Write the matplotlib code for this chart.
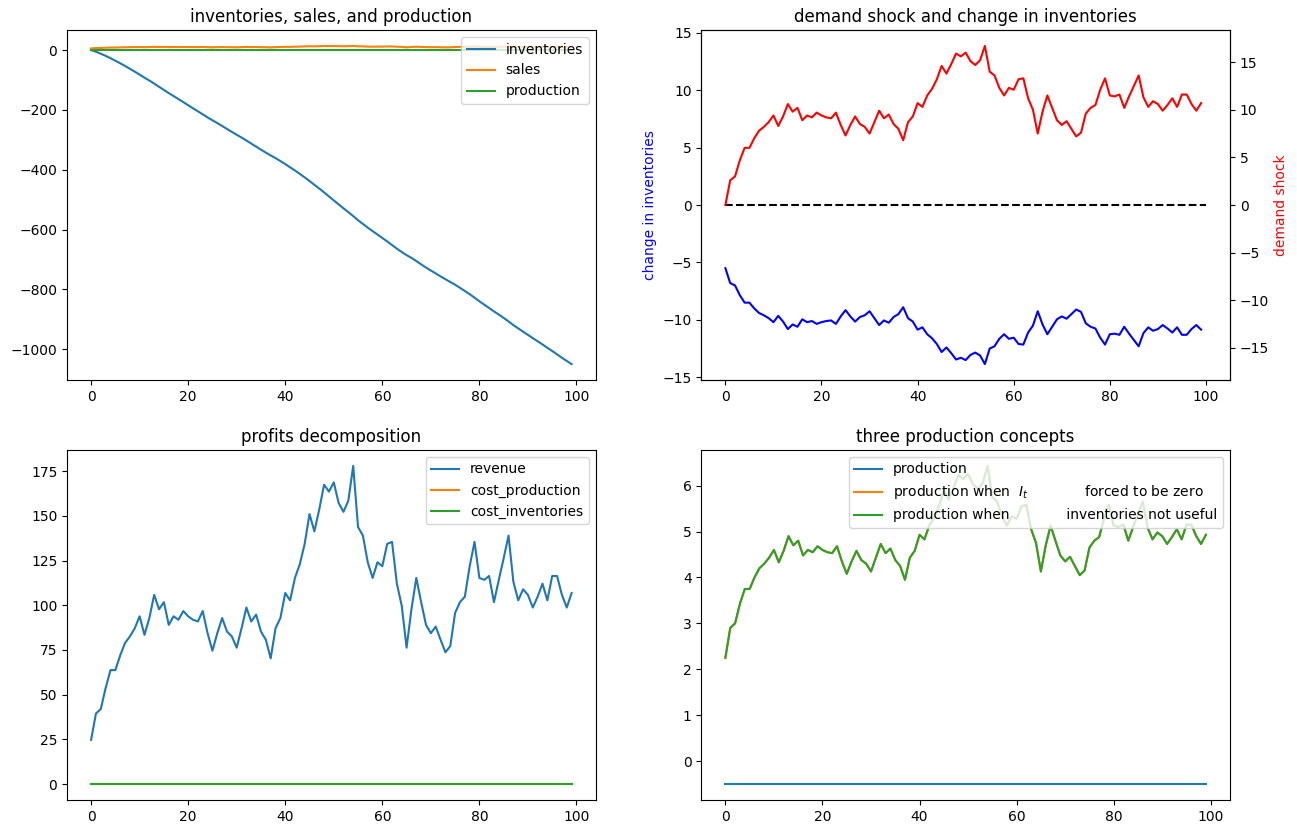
import matplotlib
matplotlib.use('Agg')
import matplotlib.pyplot as plt
import numpy as np

# data (100 periods)
demand_shock = [
    0.0, 2.6, 3.0, 4.7, 6.0, 6.0, 7.0, 7.8, 8.2, 8.7,
    9.4, 8.3, 9.3, 10.6, 9.8, 10.2, 8.9, 9.4, 9.2, 9.7,
    9.4, 9.2, 9.1, 9.7, 8.4, 7.3, 8.4, 9.3, 8.5, 8.2,
    7.5, 8.7, 9.9, 9.1, 9.5, 8.5, 8.0, 6.8, 8.7, 9.3,
    10.7, 10.3, 11.5, 12.2, 13.2, 14.6, 13.8, 14.8, 15.9, 15.6,
    16.0, 15.1, 14.7, 15.2, 16.7, 14.0, 13.6, 12.3, 11.5, 12.3,
    12.1, 13.2, 13.3, 11.2, 10.0, 7.5, 9.8, 11.5, 10.2, 8.9,
    8.4, 8.8, 8.0, 7.2, 7.6, 9.6, 10.2, 10.5, 12.1, 13.3,
    11.5, 11.4, 11.6, 10.2, 11.4, 12.5, 13.6, 11.3, 10.3, 10.9,
    10.6, 9.9, 10.5, 11.2, 10.3, 11.6, 11.6, 10.6, 9.9, 10.7]

sales = [
    5.50, 6.80, 7.00, 7.85, 8.50, 8.50, 9.00, 9.40, 9.60, 9.85,
    10.20, 9.65, 10.15, 10.80, 10.40, 10.60, 9.95, 10.20, 10.10, 10.35,
    10.20, 10.10, 10.05, 10.35, 9.70, 9.15, 9.70, 10.15, 9.75, 9.60,
    9.25, 9.85, 10.45, 10.05, 10.25, 9.75, 9.50, 8.90, 9.85, 10.15,
    10.85, 10.65, 11.25, 11.60, 12.10, 12.80, 12.40, 12.90, 13.45, 13.30,
    13.50, 13.05, 12.85, 13.10, 13.85, 12.50, 12.30, 11.65, 11.25, 11.65,
    11.55, 12.10, 12.15, 11.10, 10.50, 9.25, 10.40, 11.25, 10.60, 9.95,
    9.70, 9.90, 9.50, 9.10, 9.30, 10.30, 10.60, 10.75, 11.55, 12.15,
    11.25, 11.20, 11.30, 10.60, 11.20, 11.75, 12.30, 11.15, 10.65, 10.95,
    10.80, 10.45, 10.75, 11.10, 10.65, 11.30, 11.30, 10.80, 10.45, 10.85]

change_inventories = [
    -5.50, -6.80, -7.00, -7.85, -8.50, -8.50, -9.00, -9.40, -9.60, -9.85,
    -10.20, -9.65, -10.15, -10.80, -10.40, -10.60, -9.95, -10.20, -10.10, -10.35,
    -10.20, -10.10, -10.05, -10.35, -9.70, -9.15, -9.70, -10.15, -9.75, -9.60,
    -9.25, -9.85, -10.45, -10.05, -10.25, -9.75, -9.50, -8.90, -9.85, -10.15,
    -10.85, -10.65, -11.25, -11.60, -12.10, -12.80, -12.40, -12.90, -13.45, -13.30,
    -13.50, -13.05, -12.85, -13.10, -13.85, -12.50, -12.30, -11.65, -11.25, -11.65,
    -11.55, -12.10, -12.15, -11.10, -10.50, -9.25, -10.40, -11.25, -10.60, -9.95,
    -9.70, -9.90, -9.50, -9.10, -9.30, -10.30, -10.60, -10.75, -11.55, -12.15,
    -11.25, -11.20, -11.30, -10.60, -11.20, -11.75, -12.30, -11.15, -10.65, -10.95,
    -10.80, -10.45, -10.75, -11.10, -10.65, -11.30, -11.30, -10.80, -10.45, -10.85]

inventories = [
    0.0, -5.5, -12.3, -19.3, -27.15, -35.65, -44.15, -53.15, -62.55, -72.15,
    -82.0, -92.2, -101.85, -112.0, -122.8, -133.2, -143.8, -153.75, -163.95, -174.05,
    -184.4, -194.6, -204.7, -214.75, -225.1, -234.8, -243.95, -253.65, -263.8, -273.55,
    -283.15, -292.4, -302.25, -312.7, -322.75, -333.0, -342.75, -352.25, -361.15, -371.0,
    -381.15, -392.0, -402.65, -413.9, -425.5, -437.6, -450.4, -462.8, -475.7, -489.15,
    -502.45, -515.95, -529.0, -541.85, -554.95, -568.8, -581.3, -593.6, -605.25, -616.5,
    -628.15, -639.7, -651.8, -663.95, -675.05, -685.55, -694.8, -705.2, -716.45, -727.05,
    -737.0, -746.7, -756.6, -766.1, -775.2, -784.5, -794.8, -805.4, -816.15, -827.7,
    -839.85, -851.1, -862.3, -873.6, -884.2, -895.4, -907.15, -919.45, -930.6, -941.25,
    -952.2, -963.0, -973.45, -984.2, -995.3, -1005.95, -1017.25, -1028.55, -1039.35, -1049.8]

production = [-0.5] * 100

revenue = [
    24.75, 39.44, 42.0, 53.77, 63.75, 63.75, 72.0, 78.96, 82.56, 87.17,
    93.84, 83.47, 92.87, 105.84, 97.76, 101.76, 89.05, 93.84, 91.91, 96.77,
    93.84, 91.91, 90.95, 96.77, 84.39, 74.57, 84.39, 92.87, 85.31, 82.56,
    76.31, 87.17, 98.75, 90.95, 94.81, 85.31, 80.75, 70.31, 87.17, 92.87,
    106.87, 102.77, 115.31, 122.96, 134.31, 151.04, 141.36, 153.51, 167.45, 163.59,
    168.75, 157.25, 152.27, 158.51, 177.97, 143.75, 138.99, 124.07, 115.31, 124.07,
    121.85, 134.31, 135.47, 112.11, 99.75, 76.31, 97.76, 115.31, 101.76, 89.05,
    84.39, 88.11, 80.75, 73.71, 77.19, 95.79, 101.76, 104.81, 121.85, 135.47,
    115.31, 114.24, 116.39, 101.76, 114.24, 126.31, 138.99, 113.17, 102.77, 108.95,
    105.84, 98.75, 104.81, 112.11, 102.77, 116.39, 116.39, 105.84, 98.75, 106.87]
cost_production = [0.0] * 100
cost_inventories = [0.0] * 100

production_no_inv = [
    2.25, 2.90, 3.00, 3.43, 3.75, 3.75, 4.00, 4.20, 4.30, 4.43,
    4.60, 4.33, 4.58, 4.90, 4.70, 4.80, 4.48, 4.60, 4.55, 4.68,
    4.60, 4.55, 4.53, 4.68, 4.35, 4.08, 4.35, 4.58, 4.38, 4.30,
    4.13, 4.43, 4.73, 4.53, 4.63, 4.38, 4.25, 3.95, 4.43, 4.58,
    4.93, 4.83, 5.13, 5.30, 5.55, 5.90, 5.70, 5.95, 6.23, 6.15,
    6.25, 6.03, 5.93, 6.05, 6.43, 5.75, 5.65, 5.33, 5.13, 5.33,
    5.28, 5.55, 5.58, 5.05, 4.75, 4.13, 4.70, 5.13, 4.80, 4.48,
    4.35, 4.45, 4.25, 4.05, 4.15, 4.65, 4.80, 4.88, 5.28, 5.58,
    5.13, 5.10, 5.15, 4.80, 5.10, 5.38, 5.65, 5.08, 4.83, 4.98,
    4.90, 4.73, 4.88, 5.05, 4.83, 5.15, 5.15, 4.90, 4.73, 4.93]
production_zero_inv = production_no_inv

t = np.arange(len(sales))

fig, axes = plt.subplots(2, 2, figsize=(12.97, 8.34), dpi=100)
fig.subplots_adjust(left=0.0517, right=0.9483, top=0.964, bottom=0.0408,
                    wspace=0.2, hspace=0.2)

# inventories, sales, production
ax = axes[0, 0]
ax.plot(t, inventories, label='inventories')
ax.plot(t, sales, label='sales')
ax.plot(t, production, label='production')
ax.set_title('inventories, sales, and production')
ax.legend(loc='upper right')

# demand shock and change in inventories
ax = axes[0, 1]
ax.plot(t, change_inventories, 'b')
ax.plot([0, 100], [0, 0], 'k--')
lim = 1.1 * np.max(np.abs(change_inventories))
ax.set_ylim(-lim, lim)
ax.set_ylabel('change in inventories', color='b')
ax2 = ax.twinx()
ax2.plot(t, demand_shock, 'r')
lim2 = 1.1 * np.max(np.abs(demand_shock))
ax2.set_ylim(-lim2, lim2)
ax2.set_ylabel('demand shock', color='r')
ax.set_title('demand shock and change in inventories')

# profits decomposition
ax = axes[1, 0]
ax.plot(t, revenue, label='revenue')
ax.plot(t, cost_production, label='cost_production')
ax.plot(t, cost_inventories, label='cost_inventories')
ax.set_title('profits decomposition')
ax.legend(loc='upper right')

# three production concepts
ax = axes[1, 1]
ax.plot(t, production, label='production')
ax.plot(t, production_zero_inv, label=r'production when  $I_t$             forced to be zero')
ax.plot(t, production_no_inv, label='production when             inventories not useful')
ax.set_title('three production concepts')
ax.legend(loc='upper right')

fig.savefig('out.png', dpi=100)
